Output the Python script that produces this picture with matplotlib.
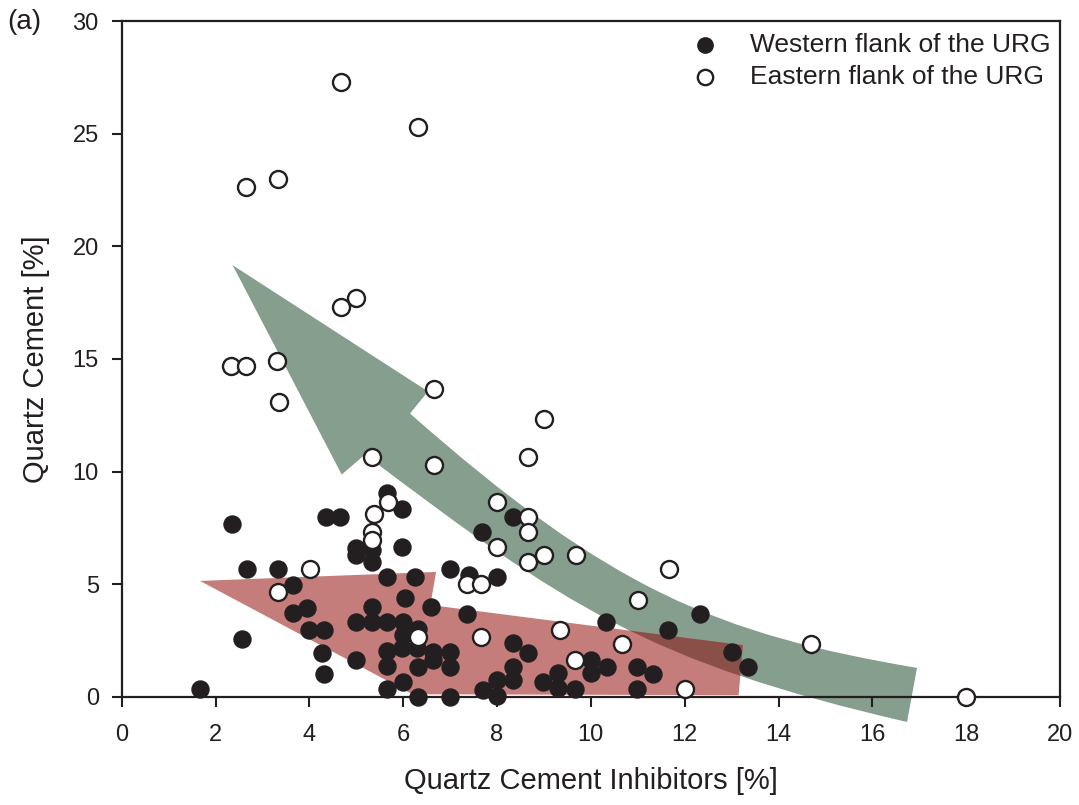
import numpy as np
import matplotlib
matplotlib.use("Agg")
import matplotlib.pyplot as plt
from matplotlib.patches import PathPatch, Polygon
from matplotlib.path import Path

plt.rcParams['font.family'] = ['Liberation Sans', 'DejaVu Sans']

INK = "#231f20"

# Western flank samples: quartz cement inhibitors [%] vs quartz cement [%]
west_x = [1.67, 2.35, 2.56, 2.67, 3.33, 3.66, 3.65, 3.94, 4.00, 4.32, 4.26, 4.32,
          4.35, 4.66, 5.00, 5.00, 5.33, 5.33, 5.66, 5.98, 5.98, 5.00, 5.00, 5.33,
          5.33, 5.65, 5.66, 6.25, 6.03, 6.00, 6.00, 6.32, 5.65, 5.65, 5.98, 6.29,
          6.32, 6.00, 5.66, 6.32, 6.60, 7.00, 7.41, 8.00, 8.35, 7.68, 7.35, 6.64,
          7.00, 6.64, 7.00, 7.00, 8.35, 8.67, 8.34, 8.34, 8.00, 7.71, 8.00, 8.99,
          9.31, 9.31, 9.67, 10.00, 10.00, 10.34, 10.33, 10.99, 11.33, 10.99, 11.65,
          12.33, 13.00, 13.34]
west_y = [0.34, 7.67, 2.56, 5.67, 5.67, 4.97, 3.71, 3.94, 2.97, 2.97, 1.97, 1.00,
          8.00, 8.00, 6.60, 6.30, 6.52, 6.00, 9.04, 8.33, 6.64, 3.34, 1.66, 4.00,
          3.34, 3.34, 5.34, 5.34, 4.38, 3.34, 2.75, 3.00, 2.05, 1.38, 2.16, 2.16,
          1.35, 0.68, 0.37, 0.01, 4.00, 5.69, 5.41, 5.34, 7.98, 7.34, 3.69, 2.01,
          2.01, 1.64, 1.35, 0.01, 2.38, 1.94, 1.35, 0.75, 0.75, 0.31, 0.03, 0.68,
          1.05, 0.39, 0.34, 1.64, 1.05, 1.35, 3.34, 1.35, 1.00, 0.34, 2.97,
          3.67, 2.01, 1.35]

# Eastern flank samples
east_x = [4.68, 6.32, 2.65, 3.34, 4.67, 5.00, 2.32, 2.65, 3.30, 3.36, 6.66, 9.00,
          8.66, 5.33, 6.66, 8.00, 5.68, 5.38, 8.67, 5.33, 5.33, 8.67, 8.00, 9.00,
          9.68, 8.65, 4.01, 11.66, 7.36, 7.66, 3.34, 11.00, 9.34, 7.66, 6.32, 10.66,
          14.70, 9.67, 12.00, 18.00]
east_y = [27.30, 25.30, 22.65, 23.00, 17.30, 17.70, 14.70, 14.70, 14.90, 13.10, 13.66, 12.33,
          10.67, 10.67, 10.30, 8.65, 8.67, 8.10, 7.97, 7.34, 6.97, 7.34, 6.64, 6.30,
          6.30, 6.00, 5.67, 5.67, 5.00, 5.00, 4.65, 4.30, 2.97, 2.68, 2.68, 2.35,
          2.33, 1.64, 0.34, 0.00]

# Trend arrows, outlines in data units (curved sides are cubic Bezier segments)
green_verts = [(2.366, 19.16), (6.529, 13.56), (6.145, 12.58),
               (10.408, 4.75), (12.689, 2.80), (16.952, 1.29),
               (16.739, -1.11),
               (11.197, 1.56), (9.449, 4.04), (5.186, 10.76),
               (4.689, 9.87), (2.366, 19.16)]
green_codes = [Path.MOVETO, Path.LINETO, Path.LINETO,
               Path.CURVE4, Path.CURVE4, Path.CURVE4,
               Path.LINETO,
               Path.CURVE4, Path.CURVE4, Path.CURVE4,
               Path.LINETO, Path.CLOSEPOLY]
red_verts = [(1.67, 5.15), (6.70, 5.55), (6.58, 4.08), (13.24, 2.30), (13.15, 0.08),
             (6.20, 0.12)]

fig = plt.figure(figsize=(10.79, 8.05), dpi=100)
ax = fig.add_axes([0.1128, 0.1342, 0.8696, 0.8397])

g = PathPatch(Path(green_verts, green_codes), facecolor="#859e8e", edgecolor="none",
              zorder=1, clip_on=False)
ax.add_patch(g)
r = Polygon(red_verts, closed=True, facecolor="#c47d7b", edgecolor="none", zorder=2)
ax.add_patch(r)
overlap = Polygon(red_verts, closed=True, facecolor="#8a5048", edgecolor="none", zorder=3)
ax.add_patch(overlap)
overlap.set_clip_path(g)

ax.scatter(west_x, west_y, s=150, c=INK, edgecolors=INK, linewidths=1.0,
           zorder=5, clip_on=False, label="Western flank of the URG")
ax.scatter(east_x, east_y, s=150, c="white", edgecolors=INK, linewidths=1.7,
           zorder=6, clip_on=False, label="Eastern flank of the URG")

ax.set_xlim(0, 20)
ax.set_ylim(0, 30)
ax.set_xticks(np.arange(0, 21, 2))
ax.set_yticks(np.arange(0, 31, 5))
ax.tick_params(direction="out", length=7.5, width=1.5, labelsize=17, colors=INK)
ax.tick_params(axis="x", pad=12)
ax.tick_params(axis="y", pad=9)
for s in ax.spines.values():
    s.set_linewidth(1.6)
    s.set_color(INK)

ax.set_xlabel("Quartz Cement Inhibitors [%]", fontsize=21, color=INK, labelpad=15)
ax.set_ylabel("Quartz Cement [%]", fontsize=21, color=INK, labelpad=16)

leg = ax.legend(loc="center left", frameon=False, fontsize=19, handletextpad=1.2,
                handlelength=1.0, borderpad=0.4, labelspacing=0.28, markerscale=0.9,
                bbox_to_anchor=(0.582, 0.941))
for t in leg.get_texts():
    t.set_color(INK)

fig.text(0.007, 0.973, "(a)", fontsize=20, color=INK, va="center", ha="left")

fig.savefig("out.png", dpi=100)
